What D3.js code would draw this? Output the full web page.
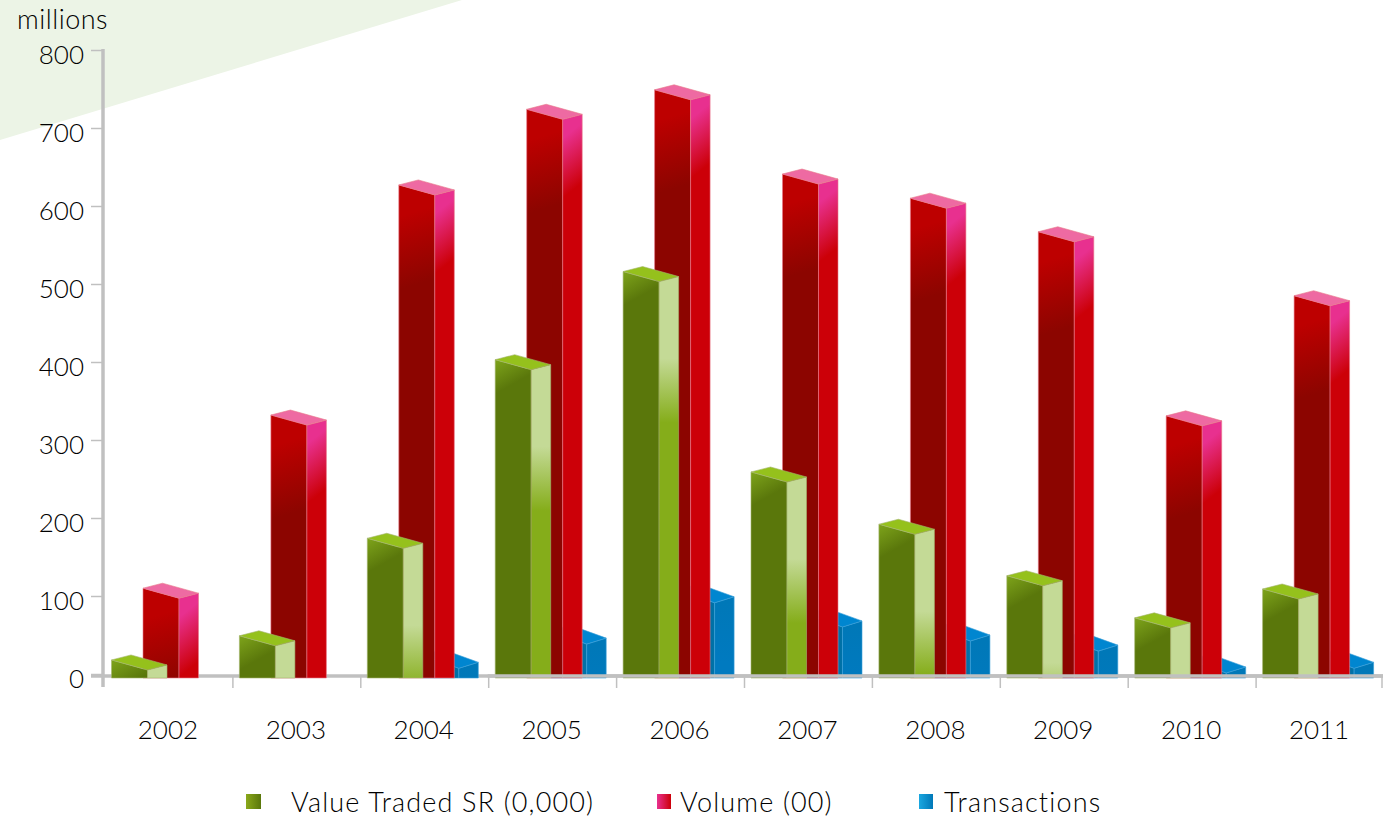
<!DOCTYPE html>
<html>
<head>
  <meta charset="utf-8">
  <title>Saudi market chart</title>
  <script src="https://d3js.org/d3.v7.min.js"></script>
  <style>
    html, body { margin: 0; padding: 0; background: #fff; overflow: hidden; }
    svg { display: block; }
    text { font-family: Lato, 'Open Sans', sans-serif; font-weight: 300; fill: #000; font-size: 26px; }
    .wide { font-size: 27px; letter-spacing: 1.15px; }
  </style>
</head>
<body>
  <div id="chart"></div>
  <script>
    // Data
    var years = ["2002", "2003", "2004", "2005", "2006", "2007", "2008", "2009", "2010", "2011"];
    var valueTraded = [18, 49, 174, 403, 516, 259, 192, 126, 72, 109];
    var volume = [110, 332, 627, 724, 749, 641, 610, 567, 331, 485];
    var transactions = [0, 0, 24, 55, 108, 77, 59, 46, 18, 24];
    var yTicks = [0, 100, 200, 300, 400, 500, 600, 700, 800];
    var legendLabels = ["Value Traded SR (0,000)", "Volume (00)", "Transactions"];

    var width = 1383, height = 822;
    var grey = "#c0c0c0";

    var svg = d3.select("#chart").append("svg")
      .attr("width", width)
      .attr("height", height);
    var defs = svg.append("defs");

    var x = d3.scaleBand().domain(years).range([105, 1384]);
    var y = d3.scaleLinear().domain([0, 800]).range([674, 50]);

    // the pale green corner behind everything
    svg.append("path")
      .attr("d", d3.line()([[0, 0], [462, 0], [0, 140]]))
      .attr("fill", "#ecf4e6");

    // Axes
    var floorY = y(0) + 2;

    svg.append("line")
      .attr("x1", 103).attr("x2", 103)
      .attr("y1", 49).attr("y2", 687)
      .attr("stroke", grey).attr("stroke-width", 3.5);

    var yAxis = svg.append("g")
      .attr("transform", "translate(103,0)")
      .call(d3.axisLeft(y).tickValues(yTicks).tickSize(12).tickPadding(7));
    yAxis.select(".domain").remove();
    yAxis.selectAll("line").attr("stroke", grey).attr("stroke-width", 1.5);
    yAxis.selectAll("text").attr("dy", "0.32em").attr("y", 5).style("font-size", "26px");

    function floorLine(x1) {
      svg.append("line")
        .attr("x1", x1).attr("x2", width)
        .attr("y1", floorY).attr("y2", floorY)
        .attr("stroke", grey).attr("stroke-width", 3.5);
    }
    floorLine(91);

    svg.append("g").selectAll("line")
      .data(years.slice(1).concat(["end"]))
      .enter().append("line")
        .attr("x1", function(d) { return d == "end" ? 1382 : x(d); })
        .attr("x2", function(d) { return d == "end" ? 1382 : x(d); })
        .attr("y1", floorY).attr("y2", floorY + 12)
        .attr("stroke", grey).attr("stroke-width", 1.5);

    svg.append("g").selectAll("text")
      .data(years)
      .enter().append("text")
        .attr("x", function(d) { return x(d) + x.bandwidth() / 2 - 1; })
        .attr("y", 739)
        .attr("text-anchor", "middle")
        .text(function(d) { return d; });

    // Bars: front face, side face and top
    var frontW = 36, sideW = 19.5;
    var base = y(0) + 4;

    // stops are [colour, pixels from the top of the face], dir is the gradient direction
    var series = [
      { name: "blue", values: transactions, offset: 62, drop: 13, rise: 6,
        top: "#0086d0", edge: "#3a9fd8",
        front: [["#005a88", 0], ["#0072a8", 36]], frontDir: [1, 0],
        side: [["#0078b8", 0], ["#007ac0", 60]], sideDir: [0, 1] },
      { name: "red", values: volume, offset: 38, drop: 10, rise: 5,
        top: "#ee6aa2", edge: "#e8788a",
        front: [["#bd0000", 0], ["#bd0000", 30], ["#8c0500", 100]], frontDir: [0.29, 0.96],
        side: [["#e8308f", 0], ["#e8308f", 15], ["#cc0008", 62]], sideDir: [0.62, 0.78] },
      { name: "green", values: valueTraded, offset: 6.5, drop: 10, rise: 5,
        top: "#95c11c", edge: "#a4b56e",
        front: [["#7ea41b", 0], ["#5a770b", 30]], frontDir: [0.486, 0.874],
        side: [["#c4da96", 0], ["#c4da96", 77], ["#85ad1a", 141]], sideDir: [0, 1] }
    ];

    function poly(points) {
      return d3.line()(points) + "Z";
    }

    function gradient(id, x0, y0, dir, stops) {
      var len = stops[stops.length - 1][1];
      var g = defs.append("linearGradient").attr("id", id)
        .attr("gradientUnits", "userSpaceOnUse")
        .attr("x1", x0).attr("y1", y0)
        .attr("x2", x0 + len * dir[0]).attr("y2", y0 + len * dir[1]);
      stops.forEach(function(c) {
        g.append("stop").attr("offset", c[1] / len).attr("stop-color", c[0]);
      });
    }

    function drawBar(g, s, i) {
      var v = s.values[i];
      if (!v) return;
      var l = x(years[i]) + s.offset, t = y(v);
      var mid = l + frontW, midY = t + s.drop;
      var id = s.name + i;

      gradient("f" + id, l, t, s.frontDir, s.front);
      gradient("s" + id, mid, midY, s.sideDir, s.side);

      g.append("path")
        .attr("d", poly([[l, t], [mid, midY], [mid, base], [l, base]]))
        .attr("fill", "url(#f" + id + ")")
        .attr("stroke", s.edge).attr("stroke-width", 0.6);
      g.append("path")
        .attr("d", poly([[mid, midY], [mid + sideW, midY - s.rise], [mid + sideW, base], [mid, base]]))
        .attr("fill", "url(#s" + id + ")")
        .attr("stroke", s.edge).attr("stroke-width", 0.6);
      g.append("path")
        .attr("d", poly([[l, t], [l + sideW, t - s.rise], [mid + sideW, midY - s.rise], [mid, midY]]))
        .attr("fill", s.top)
        .attr("stroke", s.edge).attr("stroke-width", 0.6);
    }

    var bars = svg.append("g");
    years.forEach(function(yr, i) {
      series.forEach(function(s) { drawBar(bars, s, i); });
    });

    // from 2005 on the floor line runs over the bars
    floorLine(x("2005") - 1);

    // Legend
    var legendX = [246, 657, 919];
    var legendTextX = [291, 680, 944];
    var legendColors = [["#8aa81a", "#5a770b"], ["#e8308f", "#cc0008"], ["#1aa7e0", "#0078b8"]];

    legendLabels.forEach(function(label, i) {
      var g = defs.append("linearGradient").attr("id", "lg" + i);
      g.append("stop").attr("offset", 0).attr("stop-color", legendColors[i][0]);
      g.append("stop").attr("offset", 1).attr("stop-color", legendColors[i][1]);
      svg.append("rect")
        .attr("x", legendX[i]).attr("y", 794)
        .attr("width", i == 0 ? 15 : 14).attr("height", 15)
        .attr("fill", "url(#lg" + i + ")");
      svg.append("text")
        .attr("class", "wide")
        .attr("x", legendTextX[i]).attr("y", 812)
        .text(label);
    });

    svg.append("text")
      .attr("class", "wide")
      .attr("x", 17).attr("y", 29)
      .style("letter-spacing", "0.5px")
      .text("millions");
  </script>
</body>
</html>
